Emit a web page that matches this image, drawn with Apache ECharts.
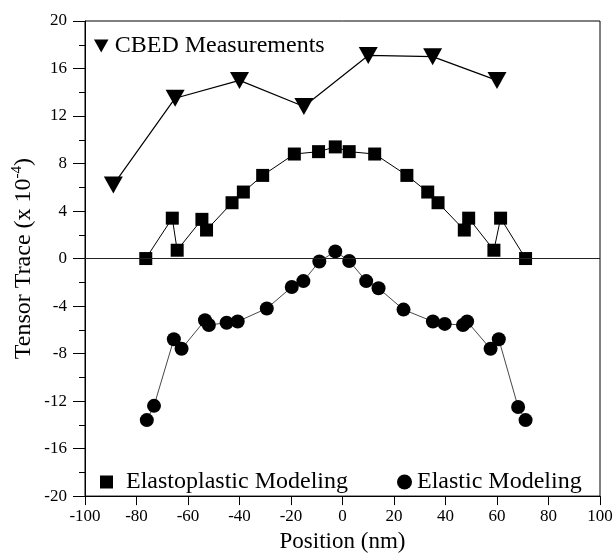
<!DOCTYPE html>
<html><head><meta charset="utf-8">
<script src="https://cdn.jsdelivr.net/npm/echarts@6/dist/echarts.min.js"></script>
<style>html,body{margin:0;padding:0;background:#fff}#c{width:616px;height:558px}</style>
</head><body><div id="c"></div>
<script>
var cbedX = [-89, -65, -40, -15, 10, 35, 60];
var cbedY = [6.2, 13.5, 15.0, 12.8, 17.1, 17.0, 15.0];
var plasticX = [-76.4, -66.1, -64.2, -54.6, -52.8, -42.9, -38.5, -31, -18.7, -9.3, -2.8, 2.6, 12.5, 25, 33.1, 37.1, 47.3, 49, 58.8, 61.4, 71.1];
var plasticY = [0, 3.4, 0.7, 3.3, 2.4, 4.7, 5.6, 7.0, 8.8, 9.0, 9.4, 9.0, 8.8, 7.0, 5.6, 4.7, 2.4, 3.4, 0.7, 3.4, 0];
var elasticX = [-76.0, -73.2, -65.5, -62.5, -53.4, -51.9, -45, -40.7, -29.4, -19.7, -15.2, -9, -2.8, 2.6, 9.2, 14, 23.7, 35.1, 39.7, 46.8, 48.4, 57.5, 60.7, 68.2, 71.1];
var elasticY = [-13.6, -12.4, -6.8, -7.6, -5.2, -5.6, -5.4, -5.3, -4.2, -2.4, -1.9, -0.25, 0.6, -0.2, -1.9, -2.5, -4.3, -5.3, -5.5, -5.6, -5.3, -7.6, -6.8, -12.5, -13.6];
var xTicks = [-100, -80, -60, -40, -20, 0, 20, 40, 60, 80, 100];
var yTicks = [-20, -16, -12, -8, -4, 0, 4, 8, 12, 16, 20];

function zip(a, b) { return a.map(function (v, i) { return [v, b[i]]; }); }
var triDown = 'path://M0,0 L10,0 L5,9 Z';
var font = 'Liberation Serif';

var chart = echarts.init(document.getElementById('c'), null, {renderer: 'canvas'});
chart.setOption({
  animation: false,
  backgroundColor: '#fff',
  textStyle: {fontFamily: font},
  grid: {left: 85, right: 16, top: 21, bottom: 58, show: true, borderColor: '#000', borderWidth: 1, backgroundColor: 'transparent'},
  legend: [
    {data: [{name: 'CBED Measurements', icon: triDown}], left: 89, top: 29, itemWidth: 15, itemHeight: 13, itemGap: 6,
     textStyle: {fontFamily: font, fontSize: 24, color: '#000', padding: [0, 0, 0, 1]}},
    {data: [{name: 'Elastoplastic Modeling', icon: 'rect'}], left: 95, top: 465, itemWidth: 13, itemHeight: 13,
     textStyle: {fontFamily: font, fontSize: 24, color: '#000', padding: [0, 0, 0, 8]}},
    {data: [{name: 'Elastic Modeling', icon: 'circle'}], left: 392, top: 465, itemWidth: 15, itemHeight: 15,
     textStyle: {fontFamily: font, fontSize: 24, color: '#000', padding: [0, 0, 0, 0]}}
  ],
  xAxis: {
    type: 'value', min: xTicks[0], max: xTicks[xTicks.length - 1], interval: 20,
    name: 'Position (nm)', nameLocation: 'middle', nameGap: 32,
    nameTextStyle: {fontFamily: font, fontSize: 23, color: '#000'},
    axisLine: {show: true, onZero: false, lineStyle: {color: '#000', width: 1}},
    axisTick: {show: true, inside: false, length: 9, lineStyle: {color: '#000'}},
    axisLabel: {fontFamily: font, fontSize: 17, color: '#000', margin: 12},
    splitLine: {show: false}
  },
  yAxis: {
    type: 'value', min: yTicks[0], max: yTicks[yTicks.length - 1], interval: 4,
    name: 'Tensor Trace (x 10{sup|-4})', nameLocation: 'middle', nameGap: 48, nameMoveOverlap: false,
    nameTextStyle: {fontFamily: font, fontSize: 24, color: '#000',
      rich: {sup: {fontFamily: font, fontSize: 15, color: '#000', verticalAlign: 'top', padding: [0, 0, 12, 0]}}},
    axisLine: {show: true, onZero: false, lineStyle: {color: '#000', width: 1}},
    axisTick: {show: true, inside: false, length: 12, lineStyle: {color: '#000'}},
    minorTick: {show: true, splitNumber: 2, length: 6, lineStyle: {color: '#000'}},
    axisLabel: {fontFamily: font, fontSize: 17, color: '#000', margin: 18},
    splitLine: {show: false}
  },
  series: [
    {name: 'CBED Measurements', type: 'line', data: zip(cbedX, cbedY), symbol: triDown, symbolSize: [19, 17],
     itemStyle: {color: '#000'}, lineStyle: {color: '#000', width: 1.2},
     markLine: {silent: true, symbol: 'none', label: {show: false}, lineStyle: {color: '#222', width: 1.2, type: 'solid'}, data: [{yAxis: 0}]}},
    {name: 'Elastoplastic Modeling', type: 'line', data: zip(plasticX, plasticY), symbol: 'rect', symbolSize: 13,
     itemStyle: {color: '#000'}, lineStyle: {color: '#000', width: 1}},
    {name: 'Elastic Modeling', type: 'line', data: zip(elasticX, elasticY), symbol: 'circle', symbolSize: 14,
     itemStyle: {color: '#000'}, lineStyle: {color: '#333', width: 0.9}}
  ]
});
</script></body></html>
